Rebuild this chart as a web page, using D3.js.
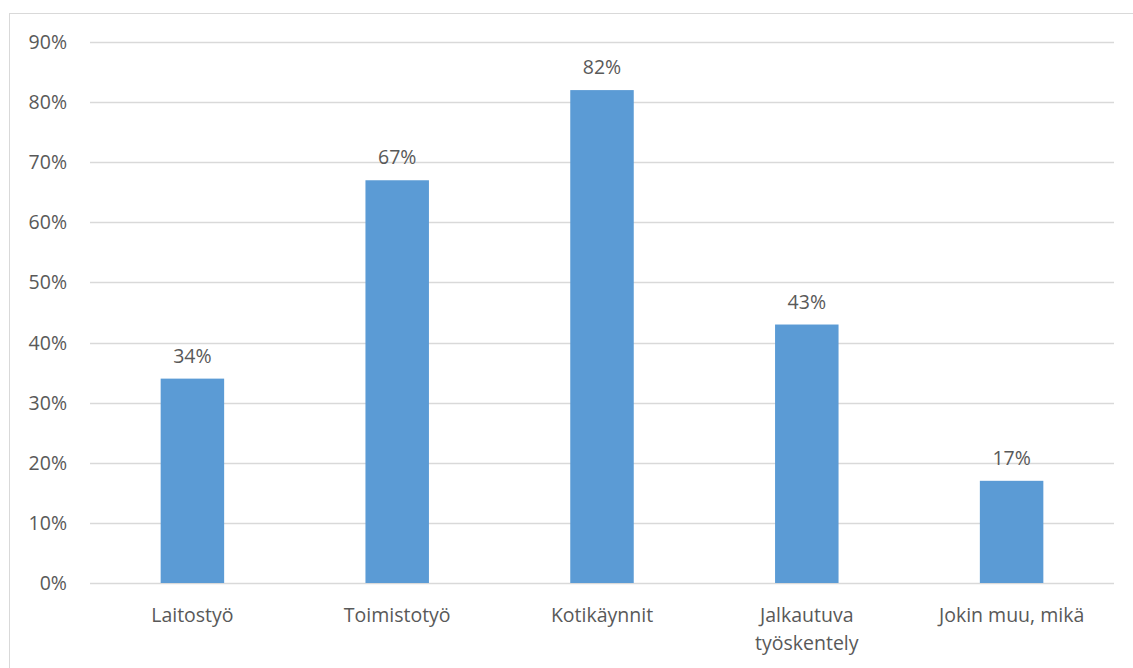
<!DOCTYPE html>
<html>
<head>
<meta charset="utf-8">
<script src="https://cdn.jsdelivr.net/npm/d3@7"></script>
<style>
  body { margin: 0; background: #fff; }
  text { font-family: "Open Sans", "Noto Sans", sans-serif; fill: #595959; }
</style>
</head>
<body>
<div id="chart"></div>
<script>
// data
var categories = ["Laitostyö", "Toimistotyö", "Kotikäynnit", "Jalkautuva työskentely", "Jokin muu, mikä"];
var labelLines = [["Laitostyö"], ["Toimistotyö"], ["Kotikäynnit"], ["Jalkautuva", "työskentely"], ["Jokin muu, mikä"]];
var values = [34, 67, 82, 43, 17];
var ticks = [0, 10, 20, 30, 40, 50, 60, 70, 80, 90];

(() => {
    var width = 1133;
    var height = 668;
    var margin = { top: 42, right: 19, bottom: 85, left: 90 };

    var svg = d3.select("#chart")
        .append("svg")
        .attr("width", width)
        .attr("height", height);

    // chart border
    svg.append("rect")
        .attr("x", 9.5)
        .attr("y", 13.5)
        .attr("width", width + 20)
        .attr("height", height + 20)
        .attr("fill", "none")
        .attr("stroke", "#d9d9d9");

    var xScale = d3.scaleBand()
        .domain(categories)
        .range([margin.left, width - margin.right])
        .paddingInner(0.69)
        .paddingOuter(0.345);

    var yScale = d3.scaleLinear()
        .domain([0, 90])
        .range([height - margin.bottom, margin.top]);

    // gridlines
    svg.selectAll(".grid")
        .data(ticks)
        .join("line")
        .attr("class", "grid")
        .attr("x1", margin.left)
        .attr("x2", width - margin.right)
        .attr("y1", function (d) { return Math.round(yScale(d)) + 0.5; })
        .attr("y2", function (d) { return Math.round(yScale(d)) + 0.5; })
        .attr("stroke", "#d9d9d9")
        .attr("stroke-width", 1.5);

    // y tick labels
    svg.selectAll(".ytick")
        .data(ticks)
        .join("text")
        .attr("class", "ytick")
        .attr("x", 67)
        .attr("y", function (d) { return yScale(d) + 7; })
        .attr("text-anchor", "end")
        .attr("font-size", "19.5px")
        .text(function (d) { return d + "%"; });

    // bars
    svg.selectAll(".bar")
        .data(values)
        .join("rect")
        .attr("class", "bar")
        .attr("x", function (d, i) { return xScale(categories[i]); })
        .attr("y", function (d) { return yScale(d); })
        .attr("width", xScale.bandwidth())
        .attr("height", function (d) { return yScale(0) - yScale(d); })
        .attr("fill", "#5b9bd5");

    // value labels
    svg.selectAll(".val")
        .data(values)
        .join("text")
        .attr("class", "val")
        .attr("x", function (d, i) { return xScale(categories[i]) + xScale.bandwidth() / 2; })
        .attr("y", function (d) { return yScale(d) - 16; })
        .attr("text-anchor", "middle")
        .attr("font-size", "19.5px")
        .text(function (d) { return d + "%"; });

    // category labels
    var cat = svg.selectAll(".cat")
        .data(labelLines)
        .join("text")
        .attr("class", "cat")
        .attr("x", function (d, i) { return xScale(categories[i]) + xScale.bandwidth() / 2; })
        .attr("y", 622)
        .attr("text-anchor", "middle")
        .attr("font-size", "19.5px");

    cat.selectAll("tspan")
        .data(function (d) { return d; })
        .join("tspan")
        .attr("x", function () { return this.parentNode.getAttribute("x"); })
        .attr("dy", function (d, i) { return i === 0 ? 0 : 28; })
        .text(function (d) { return d; });
})();
</script>
</body>
</html>
